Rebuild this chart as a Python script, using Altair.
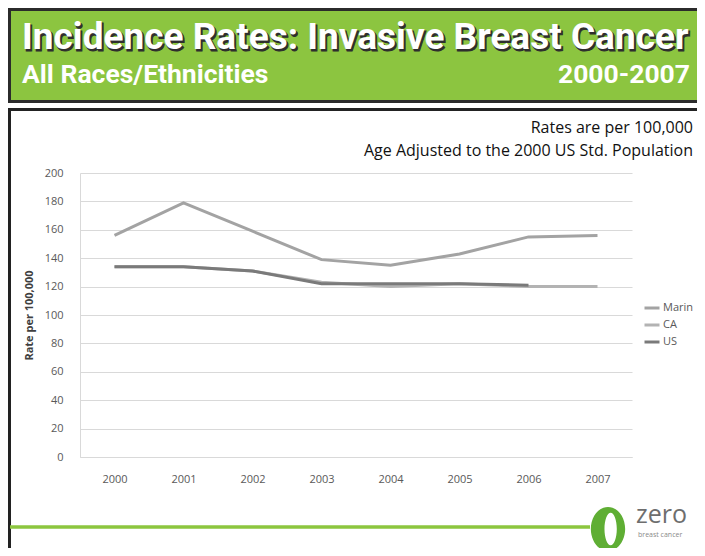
import altair as alt
import pandas as pd

years = ["2000", "2001", "2002", "2003", "2004", "2005", "2006", "2007"]
marin = [156, 179, 159, 139, 135, 143, 155, 156]
ca = [134, 134, 131, 123, 120, 122, 120, 120]
us = [134, 134, 131, 122, 122, 122, 121]
series = ["Marin", "CA", "US"]
colors = ["#a3a3a3", "#b3b3b3", "#7a7a7a"]
y_ticks = [0, 20, 40, 60, 80, 100, 120, 140, 160, 180, 200]

rows = []
for name, vals in zip(series, [marin, ca, us]):
    for yr, v in zip(years, vals):
        rows.append({"Year": yr, "Rate": v, "Series": name})
df = pd.DataFrame(rows)

W, H = 552, 284
one = alt.Data(values=[{}])

lines = alt.Chart(df).mark_line(strokeWidth=3).encode(
    x=alt.X("Year:O", sort=years,
            scale=alt.Scale(type="point", padding=0.5),
            axis=alt.Axis(title=None, labelAngle=0, ticks=False, domain=True,
                          domainColor="#d9d9d9", labelPadding=16, labelFontSize=11,
                          labelColor="#595959", labelFont="Open Sans", grid=False)),
    y=alt.Y("Rate:Q", scale=alt.Scale(domain=[0, 200], nice=False),
            axis=alt.Axis(title="Rate per 100,000", values=y_ticks, ticks=False,
                          domain=True, domainColor="#d9d9d9", gridColor="#d9d9d9",
                          labelPadding=17, labelFontSize=11, labelColor="#595959",
                          labelFont="Open Sans", titleFont="Open Sans",
                          titleFontSize=11, titleFontWeight="bold", titleColor="#404040",
                          titlePadding=10)),
    color=alt.Color("Series:N", scale=alt.Scale(domain=series, range=colors),
                    legend=alt.Legend(title=None, orient="none", legendX=563, legendY=126,
                                      symbolType="stroke", symbolSize=225,
                                      symbolStrokeWidth=3, labelFontSize=11,
                                      labelColor="#595959", labelFont="Open Sans",
                                      labelOffset=2, rowPadding=2, padding=0)),
    order=alt.Order("Series:N"),
)

header = alt.Chart(one).mark_rect(fill="#8cc540", stroke="#2b2b2b", strokeWidth=3).encode(
    x=alt.value(-70.5), x2=alt.value(620), y=alt.value(-163.5), y2=alt.value(-71.5))

TFONT = "Roboto"
title_shadow = alt.Chart(one).mark_text(
    text="Incidence Rates: Invasive Breast Cancer", align="left", baseline="alphabetic",
    font=TFONT, fontSize=37, fontWeight="bold", fill="#2e2e2e",
    stroke="#2e2e2e", strokeWidth=1).encode(x=alt.value(-56.5), y=alt.value(-122.5))
title = alt.Chart(one).mark_text(
    text="Incidence Rates: Invasive Breast Cancer", align="left", baseline="alphabetic",
    font=TFONT, fontSize=37, fontWeight="bold", fill="white").encode(
    x=alt.value(-58), y=alt.value(-124))
sub_left = alt.Chart(one).mark_text(
    text="All Races/Ethnicities", align="left", baseline="alphabetic",
    font=TFONT, fontSize=26.5, fontWeight="bold", fill="white").encode(
    x=alt.value(-58), y=alt.value(-90))
sub_right = alt.Chart(one).mark_text(
    text="2000-2007", align="right", baseline="alphabetic",
    font=TFONT, fontSize=26.5, fontWeight="bold", fill="white").encode(
    x=alt.value(610), y=alt.value(-90))

frame_top = alt.Chart(one).mark_rule(color="#222222", strokeWidth=3).encode(
    x=alt.value(-72), x2=alt.value(625), y=alt.value(-63.5))
frame_left = alt.Chart(one).mark_rule(color="#222222", strokeWidth=3).encode(
    x=alt.value(-70.5), y=alt.value(-65), y2=alt.value(380))

note1 = alt.Chart(one).mark_text(
    text="Rates are per 100,000", align="right", baseline="alphabetic",
    font="Open Sans", fontSize=16, fill="#111111").encode(x=alt.value(613), y=alt.value(-40))
note2 = alt.Chart(one).mark_text(
    text="Age Adjusted to the 2000 US Std. Population", align="right", baseline="alphabetic",
    font="Open Sans", fontSize=16, fill="#111111").encode(x=alt.value(613), y=alt.value(-17))

green_line = alt.Chart(one).mark_rule(color="#8cc63f", strokeWidth=3.5).encode(
    x=alt.value(-70), x2=alt.value(510), y=alt.value(354))

ring_path = ("M0,-1 A0.78,1 0 1,1 0,1 A0.78,1 0 1,1 0,-1 Z "
             "M0.12,-0.74 A0.28,0.74 0 1,0 0.12,0.74 A0.28,0.74 0 1,0 0.12,-0.74 Z")
logo_ring = alt.Chart(one).mark_point(shape=ring_path, size=1936, filled=True,
                                      fill="#5fae34", opacity=1, strokeWidth=0).encode(
    x=alt.value(528), y=alt.value(356))
logo_text = alt.Chart(one).mark_text(
    text="zero", align="left", baseline="alphabetic", font="Open Sans",
    fontSize=25, fill="#6e6e6e").encode(x=alt.value(556), y=alt.value(350))
logo_sub = alt.Chart(one).mark_text(
    text="breast cancer", align="left", baseline="alphabetic", font="Open Sans",
    fontSize=7, fill="#8a8a8a").encode(x=alt.value(558), y=alt.value(364))

chart = alt.layer(
    header, title_shadow, title, sub_left, sub_right, frame_top, frame_left,
    note1, note2, lines, green_line, logo_ring, logo_text, logo_sub
).properties(
    width=W, height=H,
    autosize=alt.AutoSizeParams(type="none"),
    padding={"left": 72, "top": 165, "right": 65, "bottom": 91},
).configure_view(stroke=None)

chart.save("out.html", embed_options={"renderer": "svg", "actions": False})
